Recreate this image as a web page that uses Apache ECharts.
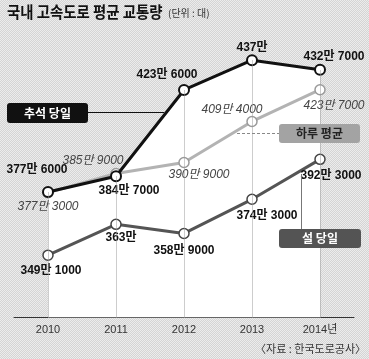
<!DOCTYPE html>
<html><head><meta charset="utf-8">
<script src="https://cdn.jsdelivr.net/npm/echarts@6/dist/echarts.min.js"></script>
<style>
html,body{margin:0;padding:0;}
#c{width:369px;height:359px;background:repeating-conic-gradient(#d4d4d4 0 25%, #ececec 0 50%) 0 0/2px 2px;}
</style>
</head><body><div id="c"></div>
<script>
// ---- data ----
const years = ['2010', '2011', '2012', '2013', '2014'];
const tickLabels = ['2010', '2011', '2012', '2013', '2014년'];
const chuseok = [377.6, 384.7, 423.6, 437.0, 432.7];   // 추석 당일 (만 대)
const dailyAvg = [377.3, 385.9, 390.9, 409.4, 423.7];  // 하루 평균
const seollal = [349.1, 363.0, 358.9, 374.3, 392.3];   // 설 당일
const seriesNames = ['추석 당일', '하루 평균', '설 당일'];
const titleText = '국내 고속도로 평균 교통량';
const unitText = '(단위 : 대)';
const sourceText = '〈자료 : 한국도로공사〉';

// ---- layout (label offsets in px) ----
const chuseokOff = [[-11, -22], [13, 14], [-17, -15], [0, -13], [14, -13]];
const avgOff = [[0, 14], [-23, -13], [15, 12], [-20, -12], [14, 16]];
const seolOff = [[3, 16], [5, 13], [0, 17], [15, 16], [11, 16]];

const NUM_FONT = '"Liberation Sans", "Noto Sans CJK KR", sans-serif';
const KR_FONT = '"Noto Sans CJK KR", sans-serif';
const Y_MIN = 321, Y_MAX = 461;

function fmt(v) {
  const man = Math.floor(v + 1e-9);
  const rest = Math.round((v - man) * 10000);
  return rest ? man + '만 ' + rest : man + '만';
}
function items(arr, off) {
  return arr.map((v, i) => ({ value: v, label: { offset: off[i] } }));
}
function lbl(extra) {
  return Object.assign({
    show: true, position: 'inside', formatter: p => fmt(p.value),
    fontFamily: NUM_FONT, fontSize: 12, color: '#111',
    textBorderWidth: 0, align: 'center', verticalAlign: 'middle'
  }, extra);
}

const chart = echarts.init(document.getElementById('c'), null, { renderer: 'canvas' });
chart.setOption({
  animation: false,
  backgroundColor: 'transparent',
  grid: { left: 14, right: 15, top: 7, bottom: 41.5 },
  xAxis: {
    type: 'category', data: years, boundaryGap: true,
    axisLine: { lineStyle: { color: '#333', width: 1 } },
    axisTick: { show: false },
    axisLabel: {
      formatter: (v, i) => tickLabels[i],
      color: '#333', fontFamily: NUM_FONT, fontSize: 11, margin: 7
    },
    splitLine: { show: false }
  },
  yAxis: { type: 'value', min: Y_MIN, max: Y_MAX, show: false, splitLine: { show: false } },
  series: [
    {
      name: seriesNames[0] + ' 영역', type: 'line', data: chuseok,
      symbol: 'none', lineStyle: { width: 0, opacity: 0 },
      areaStyle: { color: '#ffffff', opacity: 1, origin: 'start' },
      markLine: {
        silent: true, symbol: ['none', 'none'], label: { show: false },
        lineStyle: { color: '#9a9a9a', type: 'dotted', width: 1 },
        data: chuseok.map((v, i) => [{ coord: [years[i], Y_MIN] }, { coord: [years[i], v] }])
      },
      z: 1
    },
    {
      name: seriesNames[1], type: 'line', data: items(dailyAvg, avgOff),
      symbol: 'circle', symbolSize: 10,
      lineStyle: { color: '#b3b3b3', width: 3 },
      itemStyle: { color: '#fff', borderColor: '#9a9a9a', borderWidth: 1.5 },
      label: lbl({ fontStyle: 'italic', color: '#444' }),
      z: 3
    },
    {
      name: seriesNames[2], type: 'line', data: items(seollal, seolOff),
      symbol: 'circle', symbolSize: 10,
      lineStyle: { color: '#555', width: 3 },
      itemStyle: { color: '#fff', borderColor: '#444', borderWidth: 1.5 },
      label: lbl({ fontWeight: 'bold' }),
      z: 3
    },
    {
      name: seriesNames[0], type: 'line', data: items(chuseok, chuseokOff),
      symbol: 'circle', symbolSize: 10,
      lineStyle: { color: '#111', width: 3 },
      itemStyle: { color: '#fff', borderColor: '#111', borderWidth: 2 },
      label: lbl({ fontWeight: 'bold' }),
      z: 4
    }
  ],
  graphic: [
    { type: 'text', x: 7, y: 4, scaleX: 0.9, z: 100,
      style: { text: titleText, font: 'bold 16px ' + KR_FONT, fill: '#111' } },
    { type: 'text', x: 168, y: 8, z: 100,
      style: { text: unitText, font: '10px ' + KR_FONT, fill: '#333' } },
    { type: 'text', x: 366, y: 343, z: 100,
      style: { text: sourceText, font: '11px ' + KR_FONT, fill: '#333', textAlign: 'right' } },
    // 추석 당일 callout
    { type: 'line', z: 100, shape: { x1: 88, y1: 112.5, x2: 164, y2: 112.5 }, style: { stroke: '#111', lineWidth: 1 } },
    { type: 'rect', z: 100, shape: { x: 7, y: 103, width: 81, height: 20, r: 3 }, style: { fill: '#111' } },
    { type: 'text', z: 101, x: 47.5, y: 113,
      style: { text: seriesNames[0], font: 'bold 12px ' + KR_FONT, fill: '#fff', textAlign: 'center', textVerticalAlign: 'middle' } },
    // 하루 평균 callout
    { type: 'line', z: 100, shape: { x1: 237, y1: 133.5, x2: 279, y2: 133.5 }, style: { stroke: '#888', lineWidth: 1, lineDash: [3, 2] } },
    { type: 'rect', z: 100, shape: { x: 279, y: 124, width: 81, height: 19, r: 3 }, style: { fill: '#a3a3a3' } },
    { type: 'text', z: 101, x: 319.5, y: 133.5,
      style: { text: seriesNames[1], font: 'bold 12px ' + KR_FONT, fill: '#222', textAlign: 'center', textVerticalAlign: 'middle' } },
    // 설 당일 callout
    { type: 'line', z: 100, shape: { x1: 301.5, y1: 174, x2: 301.5, y2: 229 }, style: { stroke: '#777', lineWidth: 1 } },
    { type: 'rect', z: 100, shape: { x: 279, y: 229, width: 82, height: 19, r: 3 }, style: { fill: '#545454' } },
    { type: 'text', z: 101, x: 320, y: 238.5,
      style: { text: seriesNames[2], font: 'bold 12px ' + KR_FONT, fill: '#fff', textAlign: 'center', textVerticalAlign: 'middle' } }
  ]
});
</script>
</body></html>
